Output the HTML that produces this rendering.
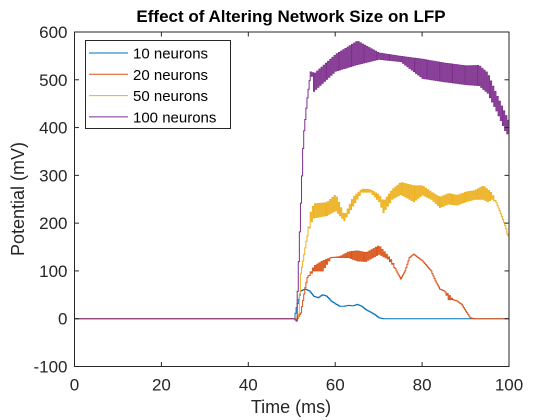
<!DOCTYPE html>
<html><head><meta charset="utf-8"><style>
body{margin:0;background:#fff;}
svg{display:block;font-family:"Liberation Sans",Arial,sans-serif;}
</style></head><body>
<svg id="chart" width="560" height="420" viewBox="0 0 560 420" xmlns="http://www.w3.org/2000/svg">
<rect width="560" height="420" fill="#fff"/>
<text x="291" y="22" text-anchor="middle" font-size="17" font-weight="bold" fill="#000">Effect of Altering Network Size on LFP</text>
<g id="plot"></g>
<text x="291" y="413" text-anchor="middle" font-size="18" fill="#262626">Time (ms)</text>
<text transform="translate(24,199) rotate(-90)" text-anchor="middle" font-size="18" fill="#262626">Potential (mV)</text>
</svg>
<script>
const xTicks=[0,20,40,60,80,100];
const yTicks=[-100,0,100,200,300,400,500,600];
const seriesNames=["10 neurons","20 neurons","50 neurons","100 neurons"];
const seriesColors=["#0072BD","#D95319","#EDB120","#7E2F8E"];
// each series: time points, lower envelope, upper envelope
const t10=[0,50.5,51,52,53,54,55,56,57,58,59,60,61,62,63,64,65,66,67,68,69,70,71,100];
const lo10=[0,0,23,58,62,58,47,44,50,47,37,31,26,26,28,27,30,26,19,14,9,2,0,0];
const hi10=[0,0,23,58,62,58,47,44,50,47,37,31,26,26,28,27,30,26,19,14,9,2,0,0];
const t20=[0,50.8,51,52,53,53.5,55,57,59,61,63,65,67,69,70,72,73,74,75,76,77,78,80,82,83,84,85,86,87,88,89,90,91,92,100];
const lo20=[0,0,-3,12,65,86,100,100,128,128,128,121,120,130,135,125,114,100,83,100,128,135,121,100,79,62,58,40,40,37,30,16,2,0,0];
const hi20=[0,0,-3,12,65,86,110,121,128,130,140,142,138,148,153,132,121,100,83,100,128,135,121,100,79,62,58,51,40,37,30,16,2,0,0];
const t50=[0,50.8,51,51.5,52,53.4,54.3,55,58,60,62,64,66,68,70,71,73,75,78,80,82,84,86,88,90,92,94,95,96,97,98,99,100];
const lo50=[0,0,-3,10,94,170,200,211,216,226,205,236,265,265,245,222,250,260,245,259,250,233,240,238,245,250,250,245,250,243,220,195,160];
const hi50=[0,0,-3,10,94,170,226,240,243,260,215,254,271,270,259,245,270,285,278,278,265,254,262,258,265,268,278,270,262,243,220,195,166];
const t100=[0,50.5,51,51.9,52.6,53.4,54.3,55,60,65,70,75,80,85,90,93,95,97,99,100];
const lo100=[0,0,-5,219,379,455,520,476,518,532,543,538,503,496,490,488,472,435,394,380];
const hi100=[0,0,-5,219,379,455,520,512,553,581,556,549,543,535,529,530,514,470,430,410];
const allT=[t10,t20,t50,t100], allLo=[lo10,lo20,lo50,lo100], allHi=[hi10,hi20,hi50,hi100];

const L=74.5,R=509,T=32,B=366.5;
const xS=v=>L+(v-0)/(100-0)*(R-L);
const yS=v=>B-(v+100)/700*(B-T);
const NS="http://www.w3.org/2000/svg";
const g=document.getElementById('plot');
function mk(tag,attrs){const e=document.createElementNS(NS,tag);for(const k in attrs)e.setAttribute(k,attrs[k]);g.appendChild(e);return e;}
function interp(ts,vs,t){for(let i=0;i<ts.length-1;i++){if(t>=ts[i]&&t<=ts[i+1]){const f=(t-ts[i])/(ts[i+1]-ts[i]||1);return vs[i]+f*(vs[i+1]-vs[i]);}}return vs[vs.length-1];}
// series (stair-step with alternating envelopes)
for(let s=0;s<4;s++){
  const ts=allT[s],lo=allLo[s],hi=allHi[s];
  let d="",k=0,prevY=null;
  for(let t=0;t<=100.0001;t+=0.25){
    const v=(k%2===0)?interp(ts,lo,t):interp(ts,hi,t);
    const x=xS(t).toFixed(2),y=yS(v).toFixed(2);
    if(k===0)d+="M"+x+","+y;
    else d+="L"+x+","+prevY+"L"+x+","+y;
    prevY=y;k++;
  }
  const p=mk('path',{d:d,fill:"none",stroke:seriesColors[s],"stroke-width":"1"});
  
  
}
// axes box
const box=mk('rect',{x:L,y:T,width:R-L,height:B-T,fill:"none",stroke:"#262626","stroke-width":"1"});


xTicks.forEach(v=>{
  const x=xS(v);
  mk('line',{x1:x,x2:x,y1:B,y2:B-4.5,stroke:"#262626"});
  mk('line',{x1:x,x2:x,y1:T,y2:T+4.5,stroke:"#262626"});
  const tx=mk('text',{x:x,y:B+24,"text-anchor":"middle","font-size":"17",fill:"#262626"});
  tx.textContent=v;
  
  
});
yTicks.forEach(v=>{
  const y=yS(v);
  mk('line',{x1:L,x2:L+4.5,y1:y,y2:y,stroke:"#262626"});
  mk('line',{x1:R,x2:R-4.5,y1:y,y2:y,stroke:"#262626"});
  const tx=mk('text',{x:L-7,y:y+6,"text-anchor":"end","font-size":"17",fill:"#262626"});
  tx.textContent=v;
  
  
});
// legend
const lg=mk('rect',{x:85.5,y:40.5,width:145,height:88,fill:"#fff",stroke:"#262626","stroke-width":"1"});


seriesNames.forEach((n,i)=>{
  const y=53+i*21.3;
  const ln=mk('line',{x1:89,x2:128,y1:y,y2:y,stroke:seriesColors[i],"stroke-width":"1"});
  
  
  const tx=mk('text',{x:133,y:y+5.5,"font-size":"15",fill:"#000"});
  tx.textContent=n;
  
  
});
</script>
</body></html>
